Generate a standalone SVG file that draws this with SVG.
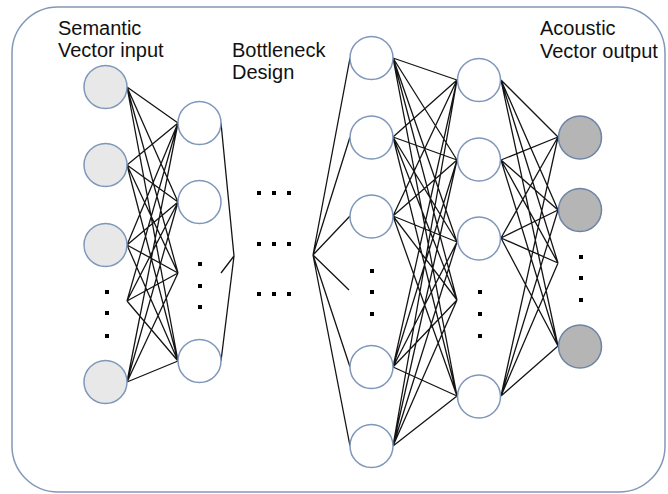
<svg xmlns="http://www.w3.org/2000/svg" width="668" height="494" viewBox="0 0 668 494">
<style>
.frame{fill:#fff;stroke:#8298b8;stroke-width:1.5}
.n{stroke:#7f97ba;stroke-width:1.5;fill:#fff}
.in{fill:#e8e8e8}
.out{fill:#b5b5b5;stroke:#6d84a6}
.c{stroke:#141414;stroke-width:1.3;fill:none}
.t{font-family:"Liberation Sans",Arial,sans-serif;font-size:20px;fill:#111}
.d{fill:#000}
</style>
<rect width="668" height="494" fill="#fff"/>
<rect class="frame" x="12" y="7" width="653" height="485" rx="46" ry="46"/>
<g id="labels">
<text class="t" x="58" y="35">Semantic</text>
<text class="t" x="58" y="57">Vector input</text>
<text class="t" x="232" y="57">Bottleneck</text>
<text class="t" x="232" y="79">Design</text>
<text class="t" x="540" y="35">Acoustic</text>
<text class="t" x="540" y="58">Vector output</text>
</g>
<g id="connectors">
<path class="c" d="M127 87L178 123M127 87L178 202M127 87L178 273M127 87L178 361
M127 165L178 123M127 165L178 202M127 165L178 273M127 165L178 361
M127 245L178 123M127 245L178 202M127 245L178 273M127 245L178 361
M127 301L178 123M127 301L178 202M127 301L178 273M127 301L178 361
M127 382L178 123M127 382L178 202M127 382L178 273M127 382L178 361"/>
<path class="c" d="M221 123L234 256M221 273L234 256M221 361L234 256"/>
<path class="c" d="M313 255L350 58M313 255L350 137M313 255L350 216M313 255L349 290M313 255L350 367M313 255L350 446"/>
<path class="c" d="M393 58L457 80M393 58L457 160M393 58L457 242M393 58L457 300M393 58L457 396
M393 137L457 80M393 137L457 160M393 137L457 242M393 137L457 300M393 137L457 396
M393 216L457 80M393 216L457 160M393 216L457 242M393 216L457 300M393 216L457 396
M393 367L457 80M393 367L457 160M393 367L457 242M393 367L457 300M393 367L457 396
M393 446L457 80M393 446L457 160M393 446L457 242M393 446L457 300M393 446L457 396"/>
<path class="c" d="M501 80L558 137M501 80L558 210M501 80L558 263M501 80L558 346
M501 160L558 137M501 160L558 210M501 160L558 263M501 160L558 346
M501 238L558 137M501 238L558 210M501 238L558 263M501 238L558 346
M501 396L558 137M501 396L558 210M501 396L558 263M501 396L558 346"/>
</g>
<g id="input-layer">
<circle class="n in" cx="105.5" cy="87" r="21.5"/>
<circle class="n in" cx="105.5" cy="165" r="21.5"/>
<circle class="n in" cx="105.5" cy="245" r="21.5"/>
<circle class="n in" cx="105.5" cy="382" r="21.5"/>
<rect class="d" x="105" y="290" width="4" height="4"/>
<rect class="d" x="105" y="311" width="4" height="4"/>
<rect class="d" x="105" y="334" width="4" height="4"/>
</g>
<g id="hidden-1">
<circle class="n" cx="199.5" cy="123" r="21.5"/>
<circle class="n" cx="199.5" cy="202" r="21.5"/>
<circle class="n" cx="199.5" cy="361" r="21.5"/>
<rect class="d" x="198" y="262" width="4" height="4"/>
<rect class="d" x="198" y="284" width="4" height="4"/>
<rect class="d" x="198" y="305" width="4" height="4"/>
</g>
<g id="bottleneck">
<rect class="d" x="257" y="191" width="4" height="4"/>
<rect class="d" x="272" y="191" width="4" height="4"/>
<rect class="d" x="287" y="191" width="4" height="4"/>
<rect class="d" x="257" y="242" width="4" height="4"/>
<rect class="d" x="272" y="242" width="4" height="4"/>
<rect class="d" x="287" y="242" width="4" height="4"/>
<rect class="d" x="257" y="292" width="4" height="4"/>
<rect class="d" x="272" y="292" width="4" height="4"/>
<rect class="d" x="287" y="292" width="4" height="4"/>
</g>
<g id="hidden-2">
<circle class="n" cx="371.5" cy="58" r="21.5"/>
<circle class="n" cx="371.5" cy="137.5" r="21.5"/>
<circle class="n" cx="371.5" cy="216.5" r="21.5"/>
<circle class="n" cx="371.5" cy="367" r="21.5"/>
<circle class="n" cx="371.5" cy="446" r="21.5"/>
<rect class="d" x="370" y="269" width="4" height="4"/>
<rect class="d" x="370" y="290" width="4" height="4"/>
<rect class="d" x="370" y="312" width="4" height="4"/>
</g>
<g id="hidden-3">
<circle class="n" cx="479" cy="80" r="21.5"/>
<circle class="n" cx="479" cy="159.5" r="21.5"/>
<circle class="n" cx="479" cy="238.5" r="21.5"/>
<circle class="n" cx="479" cy="396.5" r="21.5"/>
<rect class="d" x="478" y="290" width="4" height="4"/>
<rect class="d" x="478" y="312" width="4" height="4"/>
<rect class="d" x="478" y="334" width="4" height="4"/>
</g>
<g id="output-layer">
<circle class="n out" cx="580" cy="137.5" r="21.5"/>
<circle class="n out" cx="580" cy="210" r="21.5"/>
<circle class="n out" cx="580" cy="346.5" r="21.5"/>
<rect class="d" x="579" y="255" width="4" height="4"/>
<rect class="d" x="579" y="276" width="4" height="4"/>
<rect class="d" x="579" y="298" width="4" height="4"/>
</g>
</svg>
